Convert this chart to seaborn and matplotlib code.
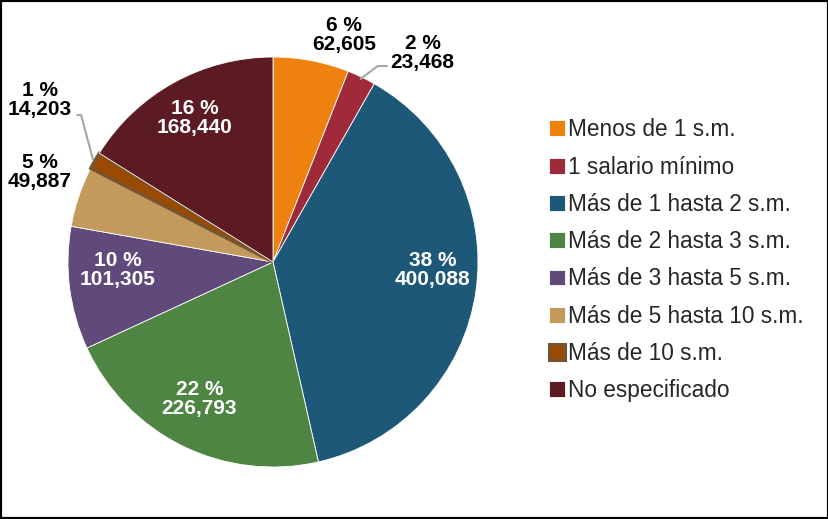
import numpy as np
import matplotlib
matplotlib.use("Agg")
import matplotlib.pyplot as plt
import seaborn as sns
from matplotlib.patches import Rectangle

categories = ["Menos de 1 s.m.", "1 salario mínimo", "Más de 1 hasta 2 s.m.",
              "Más de 2 hasta 3 s.m.", "Más de 3 hasta 5 s.m.",
              "Más de 5 hasta 10 s.m.", "Más de 10 s.m.", "No especificado"]
values = [62605, 23468, 400088, 226793, 101305, 49887, 14203, 168440]

colors = sns.color_palette(["#EF820E", "#9E2A3A", "#1D5878", "#4E8542",
                            "#604A7B", "#C49A5C", "#9A4A00", "#5C1A22"])

sns.set_theme(style="white")
plt.rcParams["font.family"] = ["Liberation Sans", "DejaVu Sans"]

W, H = 829, 519
fig = plt.figure(figsize=(W / 100, H / 100), dpi=100)
# pie centre at (273, 257) px from bottom, radius 205 px
R = 205
cx, cy = 273, 257
ax = fig.add_axes([(cx - 1.3 * R) / W, (cy - 1.25 * R) / H, 2.6 * R / W, 2.5 * R / H])

wedges, _ = ax.pie(values, colors=colors, startangle=90, counterclock=False,
                   wedgeprops=dict(edgecolor="white", linewidth=0.6))
# the small brown slice has a darker border like the original
wedges[6].set_edgecolor("#765430")
wedges[6].set_linewidth(2.2)
ax.set_xlim(-1.3, 1.3)
ax.set_ylim(-1.25, 1.25)
ax.set_aspect("equal")

total = sum(values)
# (radius, angle nudge in deg, inside?) per label
label_pos = [(1.16, -6.6, False), (1.255, -10, False), (0.78, 5.5, True), (0.76, -2, True),
             (0.76, -4.5, True), (1.22, -2.5, False), (1.384, -5.1, False), (0.80, -0.3, True)]

for w, v, (r, nudge, inside) in zip(wedges, values, label_pos):
    mid = np.deg2rad((w.theta1 + w.theta2) / 2 + nudge)
    x, y = r * np.cos(mid), r * np.sin(mid)
    txt = f"{round(v / total * 100)} %\n{v:,}"
    ax.text(x, y, txt, ha="center", va="center", fontsize=15, fontweight="bold",
            color="white" if inside else "black", linespacing=1.0)

# leader lines for the two thin slices
m2 = np.deg2rad((wedges[1].theta1 + wedges[1].theta2) / 2)
ax.annotate("", xy=(0.99 * np.cos(m2), 0.99 * np.sin(m2)), xytext=(0.556, 0.956),
            arrowprops=dict(arrowstyle="-", color="#A6A6A6", lw=1.5,
                            connectionstyle="angle,angleA=0,angleB=37,rad=0",
                            shrinkA=0, shrinkB=0))
m1 = np.deg2rad((wedges[6].theta1 + wedges[6].theta2) / 2)
ax.annotate("", xy=(1.01 * np.cos(m1), 1.01 * np.sin(m1)), xytext=(-0.955, 0.717),
            arrowprops=dict(arrowstyle="-", color="#A6A6A6", lw=1.5,
                            connectionstyle="angle,angleA=0,angleB=105,rad=0",
                            shrinkA=0, shrinkB=0))

fig.legend(wedges, categories, loc="upper left", bbox_to_anchor=(538 / W, 1 - 107 / H),
           frameon=False, fontsize=16.3, handlelength=0.7, handleheight=0.7,
           handletextpad=0.13, labelspacing=0.63, borderpad=0)

fig.patches.append(Rectangle((0, 0), 1, 1, transform=fig.transFigure, fill=False,
                             edgecolor="black", linewidth=3))

fig.savefig("out.png", dpi=100)
